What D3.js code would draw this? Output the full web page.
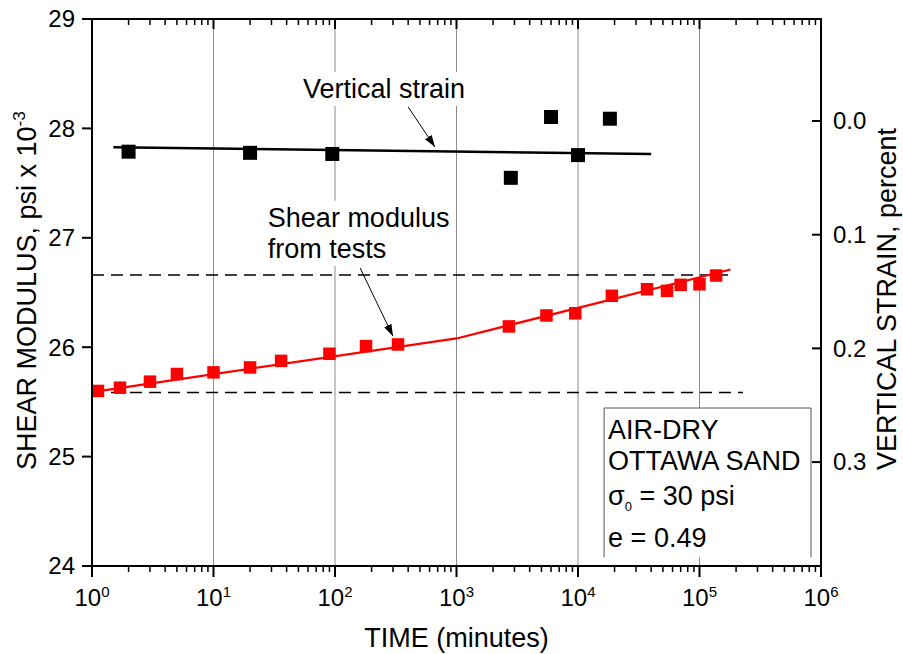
<!DOCTYPE html>
<html lang="en">
<head>
    <meta charset="UTF-8">
    <title>Shear modulus and vertical strain vs time</title>
    <script src="https://d3js.org/d3.v7.min.js"></script>
    <style>
        body { margin: 0; background: #fff; }
        text { font-family: "Liberation Sans", Arial, sans-serif; fill: #000; }
        .tick-label { font-size: 24px; }
        .axis-title { font-size: 27px; }
        .note { font-size: 27px; }
    </style>
</head>
<body>
<script>
    // shear modulus from tests (psi x 10^-3), left axis
    let timeG = [1.12, 1.7, 3, 5, 10, 20, 36, 90, 180, 330, 2700, 5500, 9500, 19000, 37000, 54000, 70000, 100000, 137000];
    let shearG = [25.60, 25.63, 25.685, 25.755, 25.77, 25.815, 25.875, 25.94, 26.01, 26.025, 26.19, 26.29, 26.31, 26.47, 26.53, 26.515, 26.57, 26.575, 26.655];

    // vertical strain (percent), right axis
    let timeS = [2, 20, 95, 2800, 6000, 10000, 18300];
    let strainS = [0.027, 0.028, 0.029, 0.050, -0.0035, 0.030, -0.002];

    // fitted lines
    let fitGTime = [1, 1000, 180000];
    let fitG = [25.59, 26.08, 26.71];
    let fitSTime = [1.5, 40000];
    let fitS = [0.023, 0.029];

    // dashed reference levels
    let refG = [26.66, 25.585];
    let refEnd = [172000, 228000];

    // axes
    let xExponents = [0, 1, 2, 3, 4, 5, 6];
    let leftTicks = [24, 25, 26, 27, 28, 29];
    let rightTicks = [0.0, 0.1, 0.2, 0.3];

    let width = 903;
    let height = 654;
    let plotLeft = 92, plotRight = 821, plotTop = 19, plotBottom = 566;

    let svg = d3.select("body").append("svg")
        .attr("width", width)
        .attr("height", height);

    let x = d3.scaleLog().domain([1, 1e6]).range([plotLeft, plotRight]);
    let yL = d3.scaleLinear().domain([24, 29]).range([plotBottom, plotTop]);
    let yR = d3.scaleLinear().domain([-0.0897, 0.3914]).range([plotTop, plotBottom]);

    // arrow head
    svg.append("defs").append("marker")
        .attr("id", "arrow")
        .attr("viewBox", "0 0 12 8")
        .attr("refX", 12)
        .attr("refY", 4)
        .attr("markerWidth", 12)
        .attr("markerHeight", 8)
        .attr("markerUnits", "userSpaceOnUse")
        .attr("orient", "auto")
        .append("path")
        .attr("d", "M0,0 L12,4 L0,8 Z")
        .attr("fill", "#000");

    // vertical grid lines at decades
    svg.append("g").selectAll("line")
        .data(xExponents.slice(1, -1))
        .join("line")
        .attr("x1", d => x(Math.pow(10, d)))
        .attr("x2", d => x(Math.pow(10, d)))
        .attr("y1", plotTop)
        .attr("y2", plotBottom)
        .attr("stroke", "#8c8c8c")
        .attr("stroke-width", 1);

    // dashed reference lines
    svg.append("g").selectAll("line")
        .data(refG)
        .join("line")
        .attr("x1", x(1))
        .attr("x2", (d, i) => x(refEnd[i]))
        .attr("y1", d => yL(d))
        .attr("y2", d => yL(d))
        .attr("stroke", "#000")
        .attr("stroke-width", 1.5)
        .attr("stroke-dasharray", "12,7");

    // annotation texts with white background
    function note(lines, tx, ty, gap) {
        let g = svg.append("g");
        let bg = g.append("rect").attr("fill", "#fff");
        let t = g.append("text").attr("class", "note");
        lines.forEach((s, i) => {
            t.append("tspan")
                .attr("x", tx)
                .attr("y", ty + i * gap)
                .text(s);
        });
        let b = t.node().getBBox();
        bg.attr("x", b.x - 2).attr("y", b.y - 2)
            .attr("width", b.width + 4).attr("height", b.height + 4);
    }

    note(["Vertical strain"], x(54.5), yL(28.278), 0);
    note(["Shear modulus", "from tests"], x(28), yL(27.10), 31);

    // arrows
    svg.append("line")
        .attr("x1", x(400)).attr("y1", yL(28.196))
        .attr("x2", x(665)).attr("y2", yL(27.83))
        .attr("stroke", "#000").attr("stroke-width", 1)
        .attr("marker-end", "url(#arrow)");
    svg.append("line")
        .attr("x1", x(161)).attr("y1", yL(26.724))
        .attr("x2", x(300)).attr("y2", yL(26.10))
        .attr("stroke", "#000").attr("stroke-width", 1)
        .attr("marker-end", "url(#arrow)");

    // fitted lines
    let lineG = d3.line().x(d => x(d[0])).y(d => yL(d[1]));
    let lineS = d3.line().x(d => x(d[0])).y(d => yR(d[1]));

    svg.append("path")
        .datum(d3.zip(fitSTime, fitS))
        .attr("d", lineS)
        .attr("fill", "none")
        .attr("stroke", "#000")
        .attr("stroke-width", 2.5);

    svg.append("path")
        .datum(d3.zip(fitGTime, fitG))
        .attr("d", lineG)
        .attr("fill", "none")
        .attr("stroke", "#f00")
        .attr("stroke-width", 2.2);

    // markers
    let sizeS = 14, sizeG = 12.5;
    svg.append("g").selectAll("rect")
        .data(d3.zip(timeS, strainS))
        .join("rect")
        .attr("x", d => x(d[0]) - sizeS / 2)
        .attr("y", d => yR(d[1]) - sizeS / 2)
        .attr("width", sizeS)
        .attr("height", sizeS)
        .attr("fill", "#000");

    svg.append("g").selectAll("rect")
        .data(d3.zip(timeG, shearG))
        .join("rect")
        .attr("x", d => x(d[0]) - sizeG / 2)
        .attr("y", d => yL(d[1]) - sizeG / 2)
        .attr("width", sizeG)
        .attr("height", sizeG)
        .attr("fill", "#f00");

    // info box
    let boxL = x(16400), boxR = x(828000), boxT = yL(25.444), boxB = yL(24.08);
    svg.append("rect")
        .attr("x", boxL).attr("y", boxT)
        .attr("width", boxR - boxL).attr("height", boxB - boxT)
        .attr("fill", "#fff");
    svg.append("path")
        .attr("d", "M" + boxL + "," + boxB + "V" + boxT + "H" + boxR + "V" + boxB)
        .attr("fill", "none")
        .attr("stroke", "#555")
        .attr("stroke-width", 1);

    let info = svg.append("g").attr("class", "note");
    info.append("text").attr("x", boxL + 4).attr("y", boxT + 31).text("AIR-DRY");
    info.append("text").attr("x", boxL + 4).attr("y", boxT + 62).text("OTTAWA SAND");
    let sig = info.append("text").attr("x", boxL + 4).attr("y", boxT + 97);
    sig.append("tspan").text("σ");
    sig.append("tspan").attr("font-size", 13).attr("dy", 6).text("0");
    sig.append("tspan").attr("dy", -6).text(" = 30 psi");
    info.append("text").attr("x", boxL + 4).attr("y", boxT + 139).text("e = 0.49");

    // frame
    svg.append("rect")
        .attr("x", plotLeft).attr("y", plotTop)
        .attr("width", plotRight - plotLeft).attr("height", plotBottom - plotTop)
        .attr("fill", "none")
        .attr("stroke", "#000")
        .attr("stroke-width", 2);

    // x ticks (bottom outward, top inward)
    let minor = [];
    xExponents.slice(0, -1).forEach(e => {
        for (let k = 2; k <= 9; k++) minor.push(k * Math.pow(10, e));
    });
    let major = xExponents.map(e => Math.pow(10, e));

    let xt = svg.append("g").attr("stroke", "#000");
    xt.selectAll(".mj-b").data(major).join("line")
        .attr("x1", d => x(d)).attr("x2", d => x(d))
        .attr("y1", plotBottom).attr("y2", plotBottom + 11)
        .attr("stroke-width", 2);
    xt.selectAll(".mn-b").data(minor).join("line")
        .attr("x1", d => x(d)).attr("x2", d => x(d))
        .attr("y1", plotBottom).attr("y2", plotBottom + 6)
        .attr("stroke-width", 1.5);
    xt.selectAll(".mj-t").data(major).join("line")
        .attr("x1", d => x(d)).attr("x2", d => x(d))
        .attr("y1", plotTop).attr("y2", plotTop + 10)
        .attr("stroke-width", 2);
    xt.selectAll(".mn-t").data(minor).join("line")
        .attr("x1", d => x(d)).attr("x2", d => x(d))
        .attr("y1", plotTop).attr("y2", plotTop + 6)
        .attr("stroke-width", 1.5);

    let xl = svg.append("g").selectAll("text")
        .data(xExponents)
        .join("text")
        .attr("class", "tick-label")
        .attr("x", d => x(Math.pow(10, d)))
        .attr("y", plotBottom + 40)
        .attr("text-anchor", "middle");
    xl.append("tspan").text("10");
    xl.append("tspan").attr("font-size", 15).attr("dy", -9).text(d => d);

    // left axis
    svg.append("g").selectAll("line")
        .data(leftTicks).join("line")
        .attr("x1", plotLeft - 10).attr("x2", plotLeft)
        .attr("y1", d => yL(d)).attr("y2", d => yL(d))
        .attr("stroke", "#000").attr("stroke-width", 2);
    svg.append("g").selectAll("text")
        .data(leftTicks).join("text")
        .attr("class", "tick-label")
        .attr("x", plotLeft - 17)
        .attr("y", d => yL(d))
        .attr("dy", "0.35em")
        .attr("text-anchor", "end")
        .text(d => d);

    // right axis (inward ticks)
    svg.append("g").selectAll("line")
        .data(rightTicks).join("line")
        .attr("x1", plotRight - 9).attr("x2", plotRight)
        .attr("y1", d => yR(d)).attr("y2", d => yR(d))
        .attr("stroke", "#000").attr("stroke-width", 2);
    svg.append("g").selectAll("text")
        .data(rightTicks).join("text")
        .attr("class", "tick-label")
        .attr("x", plotRight + 12)
        .attr("y", d => yR(d))
        .attr("dy", "0.35em")
        .text(d => d3.format(".1f")(d));

    // axis titles
    svg.append("text")
        .attr("class", "axis-title")
        .attr("x", (plotLeft + plotRight) / 2)
        .attr("y", 647)
        .attr("text-anchor", "middle")
        .text("TIME (minutes)");

    let lt = svg.append("text")
        .attr("class", "axis-title")
        .attr("transform", "translate(36,470) rotate(-90)");
    lt.append("tspan").text("SHEAR MODULUS, psi x 10");
    lt.append("tspan").attr("font-size", 17).attr("dy", -11).text("-3");

    svg.append("text")
        .attr("class", "axis-title")
        .attr("transform", "translate(896,470) rotate(-90)")
        .text("VERTICAL STRAIN, percent");
</script>
</body>
</html>
